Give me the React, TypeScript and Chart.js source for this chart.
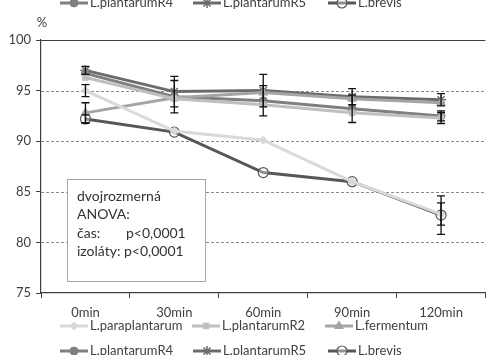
import React, { useEffect, useRef } from "react";
import { Chart, registerables } from "chart.js";
import { drawPoint } from "chart.js/helpers";

Chart.register(...registerables);

// ---------- data ----------
const categories = ["0min", "30min", "60min", "90min", "120min"];
const seriesNames = [
  "L.paraplantarum",
  "L.plantarumR2",
  "L.fermentum",
  "L.plantarumR4",
  "L.plantarumR5",
  "L.brevis",
];
const paraplantarum = [95.0, 91.0, 90.1, 86.0, 82.8];
const plantarumR2 = [96.3, 94.2, 93.6, 92.8, 92.3];
const fermentum = [92.8, 94.3, 94.8, 94.2, 93.8];
const plantarumR4 = [96.7, 94.4, 94.0, 93.2, 92.5];
const plantarumR5 = [97.0, 94.9, 95.0, 94.4, 94.1];
const brevis = [92.2, 90.9, 86.9, 86.0, 82.7];

const errParaplantarum = [0.6, 0, 0, 0, 1.1];
const errPlantarumR2 = [0, 0, 0, 0, 0.55];
const errFermentum = [1.0, 0, 0, 0, 0];
const errPlantarumR4 = [0, 1.6, 1.5, 1.35, 0.5];
const errPlantarumR5 = [0.4, 1.5, 1.6, 0.8, 0.6];
const errBrevis = [0.4, 0, 0, 0, 1.9];

const yTicks = [75, 80, 85, 90, 95, 100];
const annotationLines = ["dvojrozmerná", "ANOVA:", "čas:", "izoláty: p<0,0001"];
const annotationP = "p<0,0001";

// ---------- styles ----------
const FONT = "Lato, 'Open Sans', sans-serif";
const TEXT = "#404040";
const AXIS = "#404040";
const lineColors = ["#d9d9d9", "#bfbfbf", "#a5a5a5", "#7f7f7f", "#6b6b6b", "#575757"];
const pointStyles: any[] = ["rectRot", "rect", "triangle", "circle", "star", "circle"];
const pointRadii = [4, 4, 5, 4, 5, 5];
const pointFills = ["#d9d9d9", "#bfbfbf", "#a5a5a5", "#7f7f7f", "#6b6b6b", "rgba(255,255,255,0.35)"];
const pointBorders = ["#d9d9d9", "#bfbfbf", "#a5a5a5", "#7f7f7f", "#6b6b6b", "#575757"];
const pointBorderWidths = [1, 1, 1, 1, 1.5, 1.2];

const allSeries = [paraplantarum, plantarumR2, fermentum, plantarumR4, plantarumR5, brevis];
const allErrors = [errParaplantarum, errPlantarumR2, errFermentum, errPlantarumR4, errPlantarumR5, errBrevis];

function drawLegendRow(ctx: CanvasRenderingContext2D, idxs: number[], xs: number[], y: number) {
  idxs.forEach((idx, k) => {
    const x = xs[k];
    ctx.save();
    ctx.strokeStyle = lineColors[idx];
    ctx.lineWidth = 3;
    ctx.beginPath();
    ctx.moveTo(x, y);
    ctx.lineTo(x + 28, y);
    ctx.stroke();
    ctx.fillStyle = pointFills[idx];
    ctx.strokeStyle = pointBorders[idx];
    ctx.lineWidth = pointBorderWidths[idx];
    drawPoint(
      ctx,
      {
        pointStyle: pointStyles[idx],
        radius: pointRadii[idx],
        borderWidth: pointBorderWidths[idx],
        rotation: 0,
      } as any,
      x + 14,
      y
    );
    ctx.fillStyle = TEXT;
    ctx.font = `13px ${FONT}`;
    ctx.textAlign = "left";
    ctx.textBaseline = "middle";
    ctx.fillText(seriesNames[idx], x + 30, y);
    ctx.restore();
  });
}

const decorPlugin = {
  id: "decor",
  beforeDatasetsDraw(chart: any) {
    const { ctx, chartArea, scales } = chart;
    const y = scales.y;
    ctx.save();
    yTicks.forEach((v) => {
      if (v === 75) return;
      const py = Math.round(y.getPixelForValue(v)) + 0.5;
      ctx.beginPath();
      if (v === 100) {
        ctx.setLineDash([]);
        ctx.strokeStyle = AXIS;
        ctx.lineWidth = 1.2;
      } else {
        ctx.setLineDash([3, 2]);
        ctx.strokeStyle = "#8a8a8a";
        ctx.lineWidth = 1;
      }
      ctx.moveTo(chartArea.left, py);
      ctx.lineTo(chartArea.right, py);
      ctx.stroke();
    });
    ctx.restore();
  },
  afterDatasetsDraw(chart: any) {
    const { ctx, scales } = chart;
    const xs = scales.x;
    const ys = scales.y;
    // error bars
    ctx.save();
    ctx.strokeStyle = "#111111";
    ctx.lineWidth = 1.3;
    allSeries.forEach((s, si) => {
      s.forEach((v, i) => {
        const e = allErrors[si][i];
        if (!e) return;
        const px = xs.getPixelForValue(i);
        const top = ys.getPixelForValue(v + e);
        const bot = ys.getPixelForValue(v - e);
        ctx.beginPath();
        ctx.moveTo(px, top);
        ctx.lineTo(px, bot);
        ctx.moveTo(px - 4, top);
        ctx.lineTo(px + 4, top);
        ctx.moveTo(px - 4, bot);
        ctx.lineTo(px + 4, bot);
        ctx.stroke();
      });
    });
    ctx.restore();

    // annotation box
    ctx.save();
    ctx.fillStyle = "#ffffff";
    ctx.strokeStyle = "#a6a6a6";
    ctx.lineWidth = 1;
    ctx.fillRect(67, 179, 139, 103);
    ctx.strokeRect(67.5, 179.5, 138, 102);
    ctx.fillStyle = "#333333";
    ctx.font = `14px ${FONT}`;
    ctx.textAlign = "left";
    ctx.textBaseline = "middle";
    const lineYs = [196, 214.5, 233, 251.5];
    annotationLines.forEach((t, i) => ctx.fillText(t, 77, lineYs[i]));
    ctx.fillText(annotationP, 126, lineYs[2]);
    ctx.restore();

    // % label
    ctx.save();
    ctx.fillStyle = TEXT;
    ctx.font = `13px ${FONT}`;
    ctx.textAlign = "center";
    ctx.textBaseline = "middle";
    ctx.fillText("%", 42, 23);
    ctx.restore();

    // legends
    drawLegendRow(ctx, [3, 4, 5], [60, 193, 328], 3);
    drawLegendRow(ctx, [0, 1, 2], [60, 192, 325], 326);
    drawLegendRow(ctx, [3, 4, 5], [60, 193, 328], 351);
  },
};

export default function App() {
  const ref = useRef<HTMLCanvasElement | null>(null);

  useEffect(() => {
    if (!ref.current) return;
    const chart = new Chart(ref.current, {
      type: "line",
      data: {
        labels: categories,
        datasets: allSeries.map((s, i) => ({
          label: seriesNames[i],
          data: s,
          borderColor: lineColors[i],
          backgroundColor: pointFills[i],
          borderWidth: 3,
          pointStyle: pointStyles[i],
          pointRadius: pointRadii[i],
          pointBorderColor: pointBorders[i],
          pointBackgroundColor: pointFills[i],
          pointBorderWidth: pointBorderWidths[i],
          tension: 0,
          fill: false,
        })),
      },
      options: {
        animation: false,
        responsive: false,
        devicePixelRatio: 1,
        layout: { padding: { top: 40, left: 0, right: 0, bottom: 0 } },
        plugins: { legend: { display: false }, tooltip: { enabled: false } },
        scales: {
          x: {
            type: "category",
            offset: true,
            grid: {
              offset: true,
              drawOnChartArea: false,
              drawTicks: true,
              tickLength: 5,
              color: AXIS,
            },
            border: { color: AXIS, width: 1.2 },
            ticks: {
              color: TEXT,
              font: { family: FONT, size: 13 },
              padding: 7,
              maxRotation: 0,
              autoSkip: false,
            },
            afterFit: (s: any) => {
              s.height = 62;
            },
          },
          y: {
            min: 75,
            max: 100,
            ticks: {
              stepSize: 5,
              color: TEXT,
              font: { family: FONT, size: 13 },
              padding: 5,
            },
            grid: {
              drawOnChartArea: false,
              drawTicks: true,
              tickLength: 5,
              color: AXIS,
            },
            border: { color: AXIS, width: 1.2 },
            afterFit: (s: any) => {
              s.width = 41;
            },
          },
        },
      } as any,
      plugins: [decorPlugin],
    });
    return () => chart.destroy();
  }, []);

  return (
    <div style={{ position: "fixed", left: 0, top: 0, width: 492, height: 355, background: "#ffffff" }}>
      <canvas ref={ref} width={492} height={355} style={{ display: "block", width: 492, height: 355 }} />
    </div>
  );
}
